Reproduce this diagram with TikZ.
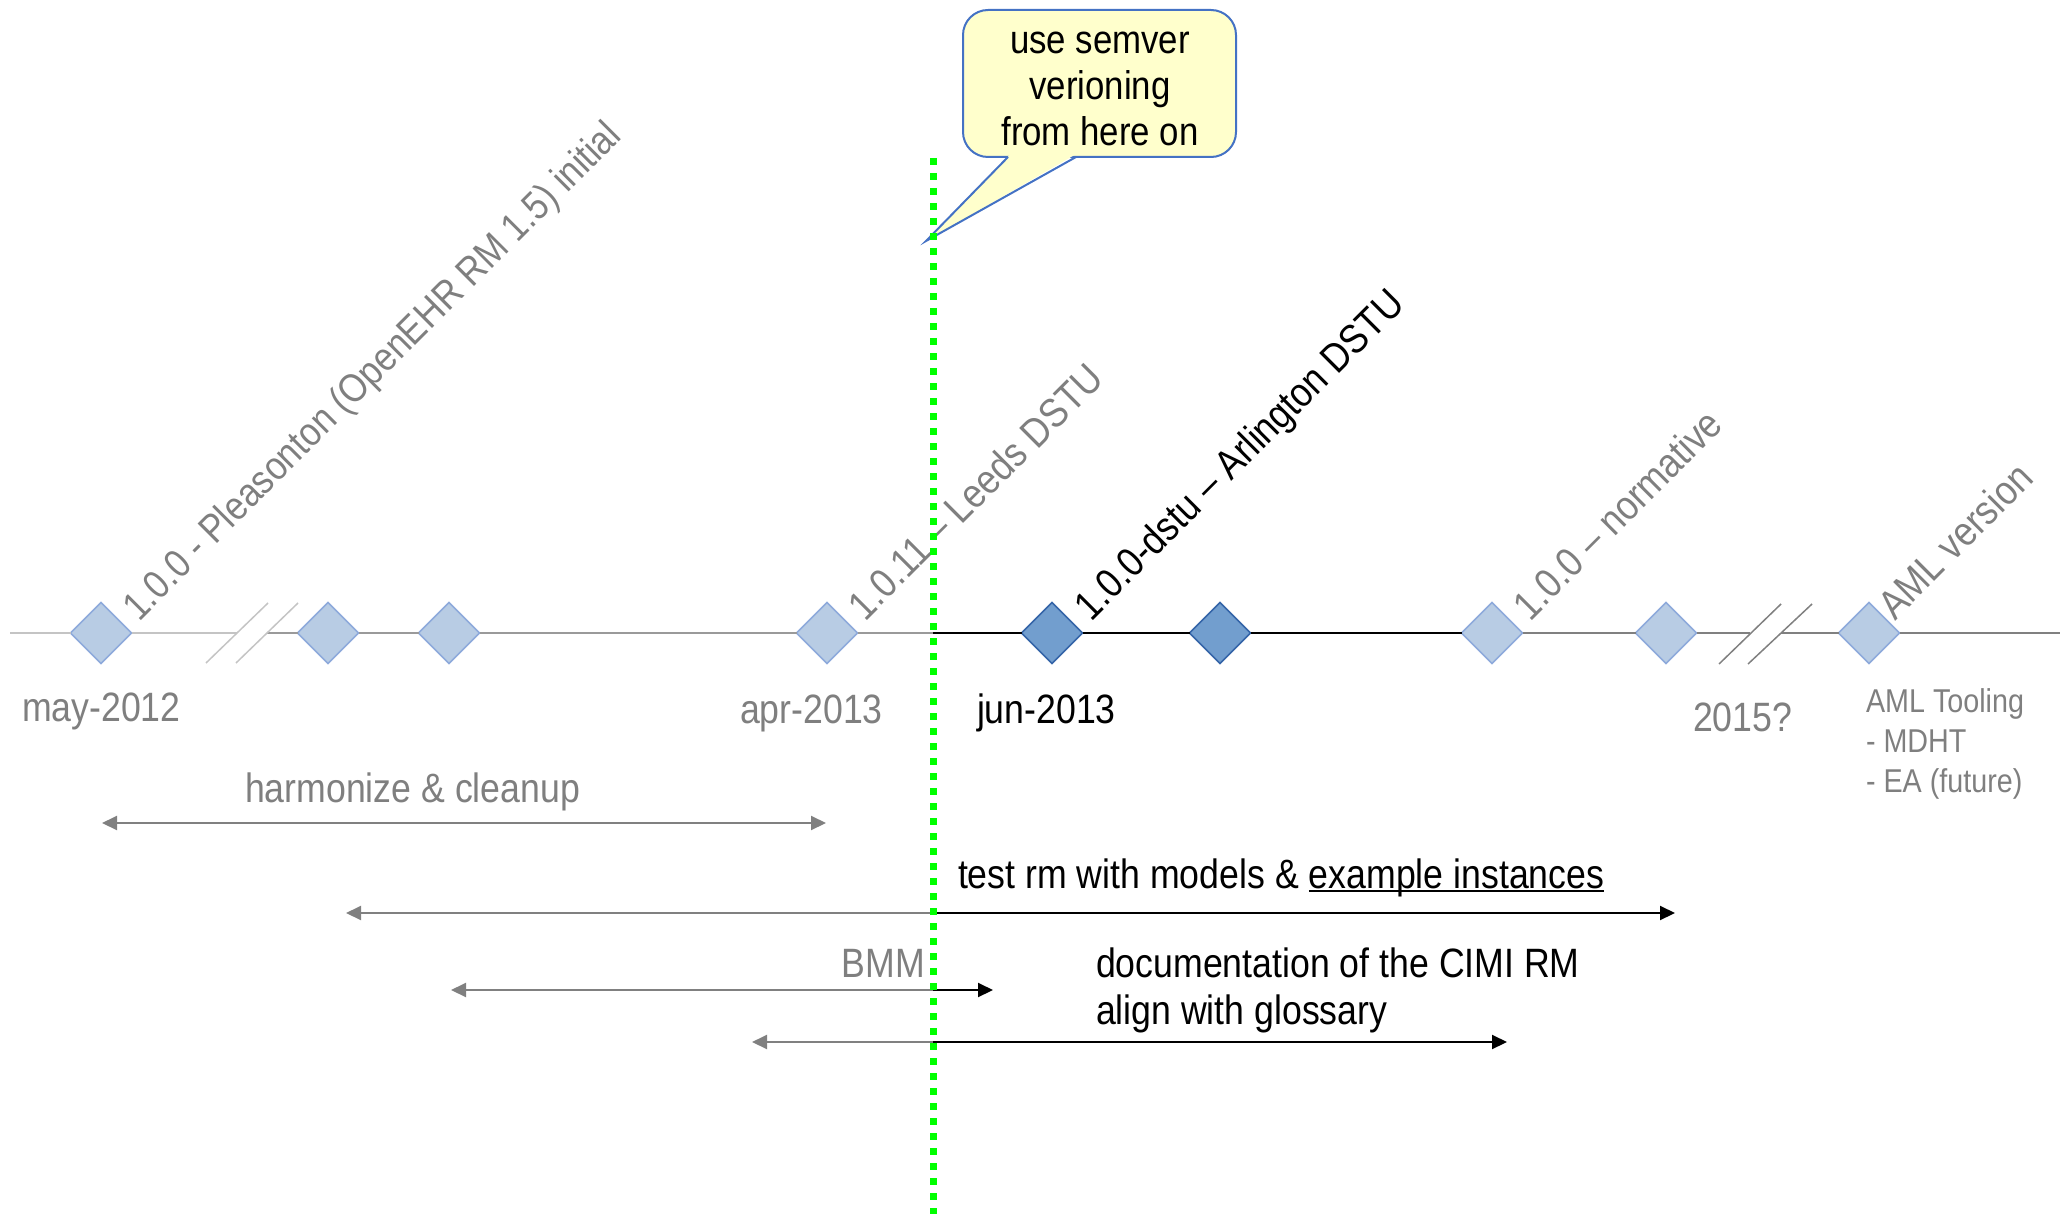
\documentclass[tikz,border=0pt]{standalone}
\usepackage{fontspec}
\setmainfont{Liberation Sans}[FakeStretch=0.87]
\usetikzlibrary{shapes.geometric,arrows.meta}
\definecolor{txtgray}{HTML}{7F7F7F}
\definecolor{lightline}{HTML}{C4C4C4}
\definecolor{midline}{HTML}{9A9A9A}
\definecolor{darkline}{HTML}{808080}
\definecolor{lightfill}{HTML}{B8CCE4}
\definecolor{lightedge}{HTML}{8EAADB}
\definecolor{darkfill}{HTML}{729ECE}
\definecolor{darkedge}{HTML}{3565A8}
\definecolor{notefill}{HTML}{FFFFCC}
\definecolor{noteedge}{HTML}{4472C4}
\definecolor{markgreen}{HTML}{00FF00}
\newcommand\myuline[1]{{\setbox0\hbox{#1}\rlap{\rule[-4pt]{\wd0}{2pt}}\box0}}
\begin{document}
\begin{tikzpicture}[x=1pt,y=-1pt,
  >={Triangle[length=15pt,width=14pt]},
  plain/.style={inner sep=0pt, outer sep=0pt},
  bigtxt/.style={plain, font=\fontsize{41}{46}\selectfont},
  greytxt/.style={bigtxt, text=txtgray},
  blacktxt/.style={bigtxt, text=black},
  vlabel/.style={anchor=base west, rotate=45},
  msl/.style={diamond, aspect=1, minimum width=61pt, minimum height=61pt, inner sep=0pt, outer sep=0pt, line width=1.5pt},
  mslight/.style={msl, fill=lightfill, draw=lightedge},
  msdark/.style={msl, fill=darkfill, draw=darkedge},
  tl/.style={line width=2pt},
  span/.style={line width=2pt, color=darkline},
  spanblack/.style={line width=2pt, color=black},
  brk/.style={line width=1.5pt},
  greendots/.style={line width=7pt, markgreen, dash pattern=on 7pt off 8pt},
]
\useasboundingbox (0,0) rectangle (2060,1214);

% timeline anchors
\coordinate (tlstart) at (10,633);
\coordinate (b1l) at (237,633);
\coordinate (b1r) at (267,633);
\coordinate (gmid) at (933,633);
\coordinate (b2l) at (1750,633);
\coordinate (b2r) at (1781,633);
\coordinate (tlend) at (2060,633);

% milestones
\node[mslight] (d1) at (101,633) {};
\node[mslight] (d2) at (328,633) {};
\node[mslight] (d3) at (449,633) {};
\node[mslight] (d4) at (827,633) {};
\node[msdark]  (d5) at (1052,633) {};
\node[msdark]  (d6) at (1220,633) {};
\node[mslight] (d7) at (1492,633) {};
\node[mslight] (d8) at (1666,633) {};
\node[mslight] (d9) at (1869,633) {};

% timeline
\draw[tl, lightline] (tlstart) -- (d1) -- (b1l);
\draw[tl, midline] (b1r) -- (d2) -- (d3) -- (d4) -- (gmid);
\draw[tl, black] (gmid) -- (d5) -- (d6) -- (d7);
\draw[tl, darkline] (d7) -- (d8) -- (b2l);
\draw[tl, darkline] (b2r) -- (d9) -- (tlend);

% break marks
\draw[brk, lightline] (206,663) -- (268,603);
\draw[brk, lightline] (236,663) -- (298,603);
\draw[brk, darkline] (1719,664) -- (1781,604);
\draw[brk, darkline] (1748,664) -- (1812,604);

% rotated version labels
\node[greytxt, vlabel, font=\fontsize{40}{46}\selectfont] (v1) at (139,622) {1.0.0 - Pleasonton (OpenEHR RM 1.5) initial};
\node[greytxt, vlabel] (v2) at (865,622) {1.0.11 – Leeds DSTU};
\node[blacktxt, vlabel] (v3) at (1091,622) {1.0.0-dstu – Arlington DSTU};
\node[greytxt, vlabel] (v4) at (1530,622) {1.0.0 – normative};
\node[greytxt, vlabel] (v5) at (1895,621) {AML version};

% date labels
\node[greytxt, anchor=base west] (lmay) at (22,721) {may-2012};
\node[greytxt, anchor=base west] (lapr) at (740,723) {apr-2013};
\node[blacktxt, anchor=base west] (ljun) at (977,723) {jun-2013};
\node[greytxt, anchor=base west] (l2015) at (1693,731) {2015?};
\node[greytxt, anchor=north west, align=left, font=\fontsize{33}{40}\selectfont] (laml) at (1866,689) {AML Tooling\\- MDHT\\- EA (future)};

% activity spans
\coordinate (h1) at (102,823);
\coordinate (h2) at (826,823);
\draw[span, <->] (h1) -- (h2);
\node[greytxt, anchor=base west] (lharm) at (245,802) {harmonize \& cleanup};

\coordinate (t1) at (346,913);
\coordinate (tg) at (933,913);
\coordinate (t2) at (1675,913);
\draw[span, <-] (t1) -- (tg);
\draw[spanblack, ->] (tg) -- (t2);
\node[blacktxt, anchor=base west] (ltest) at (958,888) {test rm with models \& \myuline{example instances}};

\coordinate (m1) at (451,990);
\coordinate (mg) at (933,990);
\coordinate (m2) at (993,990);
\draw[span, <-] (m1) -- (mg);
\draw[spanblack, ->] (mg) -- (m2);
\node[greytxt, anchor=base east] (lbmm) at (925,977) {BMM};

\coordinate (c1) at (752,1042);
\coordinate (cg) at (933,1042);
\coordinate (c2) at (1507,1042);
\draw[span, <-] (c1) -- (cg);
\draw[spanblack, ->] (cg) -- (c2);
\node[blacktxt, anchor=north west, align=left, font=\fontsize{41}{47}\selectfont] (ldoc) at (1096,948) {documentation of the CIMI RM\\align with glossary};

% callout
\node[plain, draw=noteedge, fill=notefill, line width=2pt, rounded corners=25pt, minimum width=273pt, minimum height=147pt] (note) at (1099.5,83.5) {};
\coordinate (ptip) at (926,241);
\coordinate (pa) at (1008,157);
\coordinate (pb) at (1076,157);
\coordinate (pa2) at (1009.5,155);
\coordinate (pb2) at (1074.5,155);
\fill[notefill] (pa2) -- (ptip) -- (pb2) -- cycle;
\draw[noteedge, line width=2pt, line join=miter] (pa) -- (ptip) -- (pb);
\node[plain, font=\fontsize{40}{46}\selectfont, align=center] (notetxt) at (1100,88.5) {use semver\\verioning\\from here on};

% green marker line
\coordinate (gtop) at (933,158);
\coordinate (gbot) at (933,1214);
\draw[greendots] (gtop) -- (gbot);
\end{tikzpicture}
\end{document}
